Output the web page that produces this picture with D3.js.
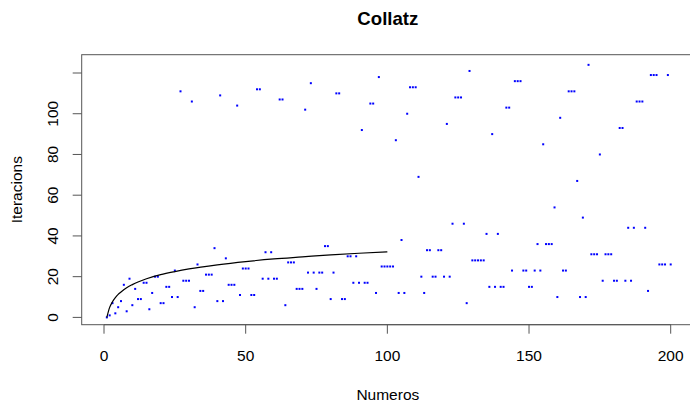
<!DOCTYPE html>
<html>
<head>
<meta charset="utf-8">
<script src="https://cdn.jsdelivr.net/npm/d3@7"></script>
<style>
  body { margin: 0; background: #fff; }
  text { font-family: "Liberation Sans", Arial, sans-serif; fill: #000; }
</style>
</head>
<body>
<div id="chart"></div>
<script>
// Collatz: pasos hasta llegar a 1 para n = 1..200
var iteracions = [
  0,1,7,2,5,8,16,3,19,6,
  14,9,9,17,17,4,12,20,20,7,
  7,15,15,10,23,10,111,18,18,18,
  106,5,26,13,13,21,21,21,34,8,
  109,8,29,16,16,16,104,11,24,24,
  24,11,11,112,112,19,32,19,32,19,
  19,107,107,6,27,27,27,14,14,14,
  102,22,115,22,14,22,22,35,35,9,
  22,110,110,9,9,30,30,17,30,17,
  92,17,17,105,105,12,118,25,25,25,
  25,25,87,12,38,12,100,113,113,113,
  69,20,12,33,33,20,20,33,33,20,
  95,20,46,108,108,108,46,7,121,28,
  28,28,28,28,41,15,90,15,41,15,
  15,103,103,23,116,116,116,23,23,15,
  15,23,36,23,85,36,36,36,54,10,
  98,23,23,111,111,111,67,10,49,10,
  124,31,31,31,80,18,31,31,31,18,
  18,93,93,18,44,18,44,106,106,106,
  44,13,119,119,119,26,26,26,119,26
];
var numeros = d3.range(1, iteracions.length + 1);

// black reference curve
var curvaX = [1, 2, 3, 4, 5, 6, 8, 10, 12, 15, 20, 25, 30, 40, 50, 60, 70, 80, 90, 100];
var curvaY = [0, 4.9, 7.7, 9.7, 11.3, 12.5, 14.6, 16.1, 17.4, 19.0, 21.0, 22.5, 23.8, 25.8, 27.4, 28.7, 29.7, 30.7, 31.5, 32.2];

var xTicks = [0, 50, 100, 150, 200];
var yTicks = [0, 20, 40, 60, 80, 100, 120];
var yLabels = [0, 20, 40, 60, 80, 100];

var svgWidth = 690;
var svgHeight = 405;

var box = { left: 81.7, right: 693, top: 54.7, bottom: 324.7 };

var svg = d3.select("#chart")
  .append("svg")
  .attr("width", svgWidth)
  .attr("height", svgHeight);

var x = d3.scaleLinear().domain([0, 200]).range([104, 670.7]);
var y = d3.scaleLinear().domain([0, 120]).range([317.4, 73.0]);

// points
svg.append("g").selectAll("rect")
  .data(numeros)
  .enter()
  .append("rect")
  .attr("x", function(d) { return x(d) - 1; })
  .attr("y", function(d, i) { return y(iteracions[i]) - 1; })
  .attr("width", 2)
  .attr("height", 2)
  .attr("fill", "#0000ff");

// curve
var linea = d3.line()
  .x(function(d, i) { return x(d); })
  .y(function(d, i) { return y(curvaY[i]); })
  .curve(d3.curveMonotoneX);

svg.append("path")
  .datum(curvaX)
  .attr("d", linea)
  .attr("fill", "none")
  .attr("stroke", "#000")
  .attr("stroke-width", 1.2);

// box
svg.append("rect")
  .attr("x", box.left)
  .attr("y", box.top)
  .attr("width", box.right - box.left)
  .attr("height", box.bottom - box.top)
  .attr("fill", "none")
  .attr("stroke", "#555")
  .attr("stroke-width", 1);

// x axis (R style)
var xAxis = svg.append("g");
xAxis.append("line")
  .attr("x1", x(0)).attr("x2", x(200))
  .attr("y1", box.bottom).attr("y2", box.bottom)
  .attr("stroke", "#555");
xAxis.selectAll(".tick")
  .data(xTicks)
  .enter()
  .append("line")
  .attr("x1", function(d) { return x(d); })
  .attr("x2", function(d) { return x(d); })
  .attr("y1", box.bottom)
  .attr("y2", box.bottom + 9)
  .attr("stroke", "#555");
xAxis.selectAll("text")
  .data(xTicks)
  .enter()
  .append("text")
  .attr("x", function(d) { return x(d); })
  .attr("y", 361)
  .attr("text-anchor", "middle")
  .attr("font-size", 15.5)
  .text(function(d) { return d; });

// y axis
var yAxis = svg.append("g");
yAxis.selectAll("line")
  .data(yTicks)
  .enter()
  .append("line")
  .attr("x1", box.left - 9)
  .attr("x2", box.left)
  .attr("y1", function(d) { return y(d); })
  .attr("y2", function(d) { return y(d); })
  .attr("stroke", "#555");
yAxis.selectAll("text")
  .data(yLabels)
  .enter()
  .append("text")
  .attr("transform", function(d) { return "translate(58," + y(d) + ") rotate(-90)"; })
  .attr("text-anchor", "middle")
  .attr("font-size", 15.5)
  .text(function(d) { return d; });

// titles
svg.append("text")
  .attr("x", (box.left + 690) / 2 + 2)
  .attr("y", 25)
  .attr("text-anchor", "middle")
  .attr("font-size", 18.6)
  .attr("font-weight", "bold")
  .text("Collatz");

svg.append("text")
  .attr("x", (box.left + 690) / 2 + 2)
  .attr("y", 400)
  .attr("text-anchor", "middle")
  .attr("font-size", 15.5)
  .text("Numeros");

svg.append("text")
  .attr("transform", "translate(22," + ((box.top + box.bottom) / 2) + ") rotate(-90)")
  .attr("text-anchor", "middle")
  .attr("font-size", 15.5)
  .text("Iteracions");
</script>
</body>
</html>
